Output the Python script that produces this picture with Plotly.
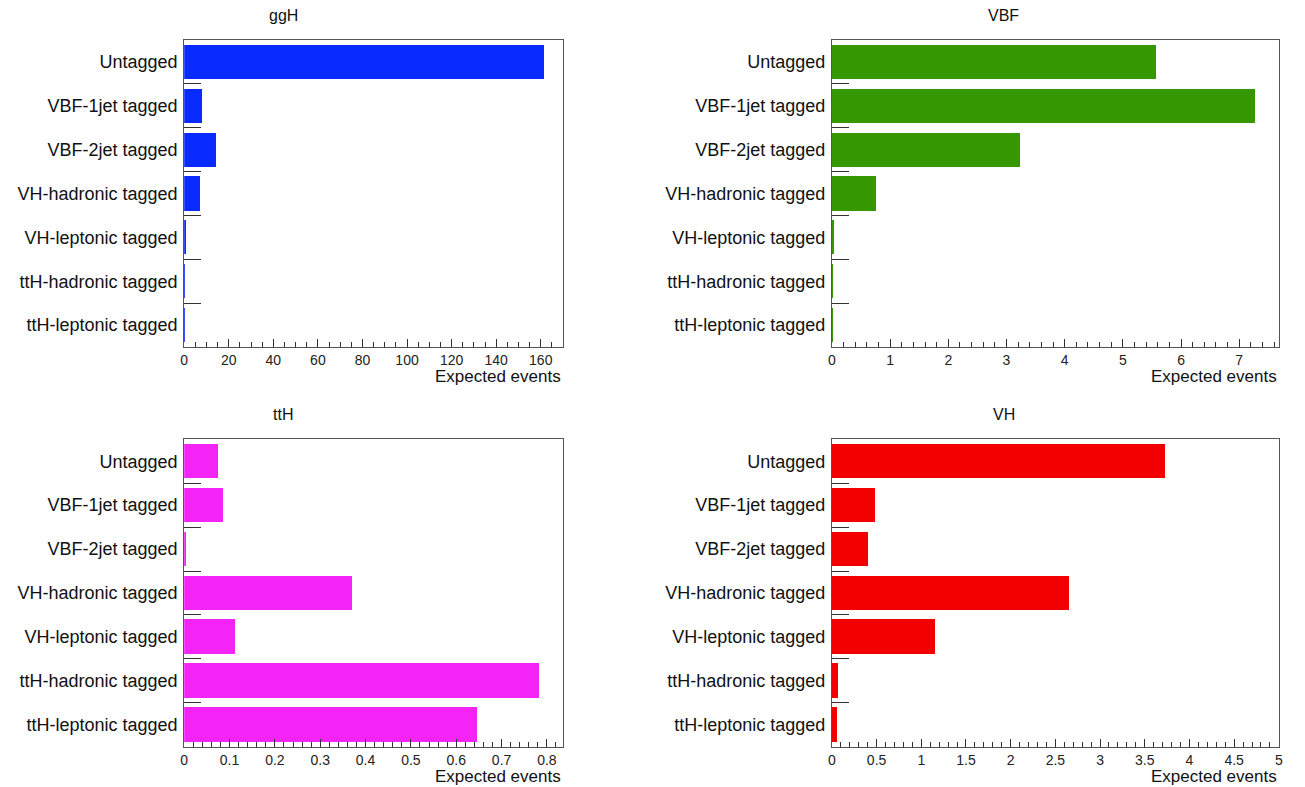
"""Expected events per event category, split by Higgs production mode."""

import plotly.graph_objects as go

categories = [
    "Untagged",
    "VBF-1jet tagged",
    "VBF-2jet tagged",
    "VH-hadronic tagged",
    "VH-leptonic tagged",
    "ttH-hadronic tagged",
    "ttH-leptonic tagged",
]

ggh_values = [161.5, 7.9, 14.4, 7.4, 0.5, 0.4, 0.3]
vbf_values = [5.57, 7.27, 3.23, 0.76, 0.035, 0.01, 0.008]
tth_values = [0.0745, 0.0866, 0.003, 0.371, 0.113, 0.784, 0.647]
vh_values = [3.72, 0.483, 0.40, 2.65, 1.15, 0.07, 0.056]

W, H = 1305, 787

# name, values, colour, x range, major dtick, minor dtick, frame (px), title x (px)
panels = [
    ("ggH", ggh_values, "#0a2bff", 170.1, 20, 5, (181.3, 562.7, 40, 347), 281),
    ("VBF", vbf_values, "#359800", 7.68, 1, 0.2, (833, 1282.7, 40, 347), 1006),
    ("ttH", tth_values, "#f424f6", 0.836, 0.1, 0.02, (181.3, 562.7, 439.3, 746.7), 281),
    ("VH", vh_values, "#f20000", 5.0, 0.5, 0.1, (833, 1282.7, 439.3, 746.7), 1006),
]

font_family = "Liberation Sans, Arial, Helvetica, sans-serif"
frame_color = "#555555"
tick_color = "#333333"


def px_x(value):
    return value / W


def px_y(value):
    return 1 - value / H


fig = go.Figure()
annotations = []
layout = {}

for i, (name, values, color, xmax, dtick, minor_dtick, frame, title_x) in enumerate(panels, start=1):
    x0, x1, y0, y1 = frame
    suffix = "" if i == 1 else str(i)
    fig.add_trace(go.Bar(
        x=values, y=categories, orientation="h",
        marker=dict(color=color, line=dict(width=0)),
        width=0.78, xaxis=f"x{suffix}", yaxis=f"y{suffix}",
        showlegend=False, name=name,
    ))
    layout[f"xaxis{suffix}"] = dict(
        domain=[px_x(x0), px_x(x1)], anchor=f"y{suffix}",
        range=[0, xmax], dtick=dtick, tick0=0,
        ticks="inside", ticklen=8, tickwidth=1, tickcolor=tick_color,
        minor=dict(dtick=minor_dtick, tick0=0, ticks="inside", ticklen=5,
                   tickwidth=1, tickcolor=tick_color, showgrid=False),
        showline=True, linecolor=frame_color, linewidth=1, mirror=True,
        showgrid=False, zeroline=False,
        tickfont=dict(family=font_family, size=14, color="#222222"),
        fixedrange=True,
    )
    layout[f"yaxis{suffix}"] = dict(
        domain=[px_y(y1), px_y(y0)], anchor=f"x{suffix}",
        type="category", categoryorder="array", categoryarray=categories,
        range=[len(categories) - 0.5, -0.5],
        ticks="inside", tickson="boundaries", ticklen=17, tickwidth=1,
        tickcolor=tick_color,
        showline=True, linecolor=frame_color, linewidth=1, mirror=True,
        showgrid=False, zeroline=False,
        tickfont=dict(family=font_family, size=18, color="#111111"),
        ticklabelstandoff=2,
        fixedrange=True,
    )
    annotations.append(dict(
        text=name, x=px_x(title_x), y=px_y(y0 - 25),
        xref="paper", yref="paper", xanchor="center", yanchor="middle",
        showarrow=False, font=dict(family=font_family, size=16, color="#111111"),
    ))
    annotations.append(dict(
        text="Expected events", x=px_x(x1), y=px_y(y1 + 30),
        xref="paper", yref="paper", xanchor="right", yanchor="middle",
        showarrow=False, font=dict(family=font_family, size=17, color="#111111"),
    ))

fig.update_layout(
    width=W, height=H,
    margin=dict(l=0, r=0, t=0, b=0),
    paper_bgcolor="white", plot_bgcolor="white",
    annotations=annotations,
    bargap=0,
    **layout,
)

# drop the browser's default body margin so the figure fills the window
fig.write_html(
    "out.html",
    config={"displayModeBar": False},
    post_script="document.body.style.margin = '0';",
)
